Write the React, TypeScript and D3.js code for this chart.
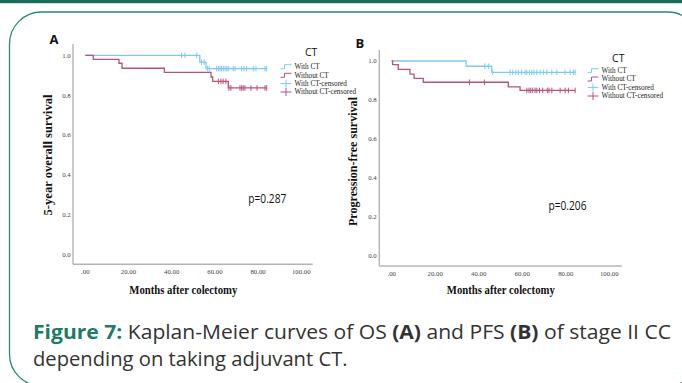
import React from "react";
import * as d3 from "d3";

// ---- Panel A: overall survival (months, survival) ----
const osWithCtSteps: [number, number][] = [[0, 1.0], [53.0, 0.966], [55.9, 0.933]];
const osWithCtEnd = 84;
const osWithCtCensored = [44.6, 46.1, 51.6, 53.8, 55.0, 56.5, 57.4, 60.8, 61.6, 62.4, 63.1, 63.9, 64.7, 65.5, 66.2, 68.5, 69.3, 72.4, 73.5, 74.7, 77.8, 79.0, 83.2, 84.0];

const osWithoutCtSteps: [number, number][] = [[0, 1.0], [3.7, 0.98], [15.6, 0.96], [17.0, 0.935], [36.6, 0.914], [58.2, 0.891], [59.0, 0.869], [66.2, 0.836]];
const osWithoutCtEnd = 84;
const osWithoutCtCensored = [61.6, 62.8, 63.8, 65.1, 66.5, 67.4, 71.6, 72.4, 73.1, 73.9, 76.7, 79.5, 83.2, 84.0];

// ---- Panel B: progression-free survival ----
const pfsWithCtSteps: [number, number][] = [[0, 1.0], [34.2, 0.973], [46.0, 0.942]];
const pfsWithCtEnd = 84.3;
const pfsWithCtCensored = [42.8, 44.6, 46.4, 54.4, 55.6, 57.1, 58.2, 59.7, 61.3, 62.1, 63.3, 64.4, 65.4, 66.7, 68.2, 69.7, 71.3, 73.6, 75.9, 79.7, 82.0, 83.5, 84.3];

const pfsWithoutCtSteps: [number, number][] = [[0, 1.0], [0.4, 0.981], [3.0, 0.957], [8.4, 0.933], [10.3, 0.911], [14.5, 0.891], [53.6, 0.867], [59.0, 0.849]];
const pfsWithoutCtEnd = 84.3;
const pfsWithoutCtCensored = [35.7, 42.6, 62.1, 63.1, 63.9, 64.8, 65.9, 66.7, 67.9, 69.4, 71.5, 72.3, 73.6, 77.4, 79.7, 81.2, 84.3];

const xTicks = [0, 20, 40, 60, 80, 100];
const yTicks = [0, 0.2, 0.4, 0.6, 0.8, 1.0];
const legendLabels = ["With CT", "Without CT", "With CT-censored", "Without CT-censored"];

const BLUE = "#7ecaf0";
const RED = "#b8517b";
const AXIS = "#b4b4b4";
const SERIF = "'Liberation Serif', 'Times New Roman', serif";
const SANS = "'Open Sans', sans-serif";
const TEAL = "#1f7a67";

type Series = { steps: [number, number][]; end: number; censored: number[]; color: string };

function survivalAt(steps: [number, number][], t: number) {
  let s = steps[0][1];
  for (const [time, v] of steps) if (time <= t) s = v;
  return s;
}

type PanelProps = {
  letter: string;
  letterPos: [number, number];
  xRange: [number, number];
  yRange: [number, number];
  axisX: number;
  axisTop: number;
  axisY: number;
  axisRight: number;
  yLabelX: number;
  xLabelY: number;
  yTitle: string;
  yTitlePos: [number, number];
  yTitleLen: number;
  xTitlePos: [number, number];
  pText: string;
  pPos: [number, number];
  legendTitlePos: [number, number];
  legendSymX: number;
  legendRows: number[];
  series: Series[];
};

function Panel(p: PanelProps) {
  const x = d3.scaleLinear().domain([0, 100]).range(p.xRange);
  const y = d3.scaleLinear().domain([0, 1]).range(p.yRange);
  const line = d3
    .line<[number, number]>()
    .x((d) => x(d[0]))
    .y((d) => y(d[1]))
    .curve(d3.curveStepAfter);
  const fmtX = (v: number) => (v === 0 ? ".00" : d3.format(".2f")(v));
  const fmtY = d3.format(".1f");
  const sx0 = p.legendSymX;
  const sx1 = p.legendSymX + 11;

  return (
    <g>
      <text x={p.letterPos[0]} y={p.letterPos[1]} fontFamily={SANS} fontWeight={700} fontSize={13} fill="#111">
        {p.letter}
      </text>
      {/* axes */}
      <line x1={p.axisX} x2={p.axisX} y1={p.axisTop} y2={p.axisY} stroke={AXIS} strokeWidth={1.4} />
      <line x1={p.axisX} x2={p.axisRight} y1={p.axisY} y2={p.axisY} stroke={AXIS} strokeWidth={1.4} />
      {yTicks.map((v) => (
        <text key={v} x={p.yLabelX} y={y(v) + 2.4} textAnchor="end" fontFamily={SERIF} fontSize={6.8} fill="#444">
          {fmtY(v)}
        </text>
      ))}
      {xTicks.map((v) => (
        <text key={v} x={x(v)} y={p.xLabelY} textAnchor="middle" fontFamily={SERIF} fontSize={6.8} fill="#444">
          {fmtX(v)}
        </text>
      ))}
      <text
        transform={`translate(${p.yTitlePos[0]},${p.yTitlePos[1]}) rotate(-90)`}
        textAnchor="middle"
        fontFamily={SERIF}
        fontWeight={700}
        fontSize={11.5}
        textLength={p.yTitleLen}
        lengthAdjust="spacingAndGlyphs"
        fill="#111"
      >
        {p.yTitle}
      </text>
      <text
        x={p.xTitlePos[0]}
        y={p.xTitlePos[1]}
        textAnchor="middle"
        fontFamily={SERIF}
        fontWeight={700}
        fontSize={11.5}
        textLength={108}
        lengthAdjust="spacingAndGlyphs"
        fill="#111"
      >
        Months after colectomy
      </text>
      {/* survival curves */}
      {p.series.map((s, i) => (
        <g key={i}>
          <path
            d={line([...s.steps, [s.end, s.steps[s.steps.length - 1][1]]]) || ""}
            fill="none"
            stroke={s.color}
            strokeWidth={1.3}
          />
          {s.censored.map((t, j) => {
            const cy = y(survivalAt(s.steps, t));
            return <line key={j} x1={x(t)} x2={x(t)} y1={cy - 2.8} y2={cy + 2.8} stroke={s.color} strokeWidth={1} />;
          })}
        </g>
      ))}
      <text x={p.pPos[0]} y={p.pPos[1]} fontFamily={SANS} fontSize={12} textLength={38} lengthAdjust="spacingAndGlyphs" fill="#111">
        {p.pText}
      </text>
      {/* legend */}
      <text x={p.legendTitlePos[0]} y={p.legendTitlePos[1]} textAnchor="middle" fontFamily={SANS} fontSize={10.5} fill="#111">
        CT
      </text>
      {legendLabels.map((lab, i) => {
        const cy = p.legendRows[i];
        const color = i % 2 === 0 ? BLUE : RED;
        return (
          <g key={lab}>
            {i < 2 ? (
              <path
                d={`M${sx0},${cy + 2} H${sx0 + 4} V${cy - 2} H${sx1}`}
                fill="none"
                stroke={color}
                strokeWidth={1}
              />
            ) : (
              <g>
                <line x1={sx0} x2={sx1} y1={cy} y2={cy} stroke={color} strokeWidth={1} />
                <line x1={(sx0 + sx1) / 2} x2={(sx0 + sx1) / 2} y1={cy - 4} y2={cy + 4} stroke={color} strokeWidth={1} />
              </g>
            )}
            <text x={sx1 + 3} y={cy + 2.4} fontFamily={SERIF} fontSize={7.2} fill="#222">
              {lab}
            </text>
          </g>
        );
      })}
    </g>
  );
}

export default function App() {
  const W = 682;
  const H = 383;
  return (
    <svg width={W} height={H} style={{ position: "absolute", left: 0, top: 0, background: "#fff" }}>
      <rect x={0} y={0} width={W} height={H} fill="#fff" />
      <rect x={0} y={0} width={W} height={3.2} fill="#1c6b58" />
      <rect x={9.5} y={12} width={690} height={374} rx={32} ry={32} fill="none" stroke="#2a8a77" strokeWidth={1.3} />

      <Panel
        letter="A"
        letterPos={[49.5, 43.5]}
        xRange={[85.3, 301.3]}
        yRange={[254.5, 55.3]}
        axisX={73}
        axisTop={44}
        axisY={264.3}
        axisRight={312.7}
        yLabelX={70.7}
        xLabelY={274}
        yTitle="5-year overall survival"
        yTitlePos={[51.5, 155]}
        yTitleLen={121}
        xTitlePos={[183.3, 293.5]}
        pText="p=0.287"
        pPos={[248.3, 203]}
        legendTitlePos={[311.2, 56]}
        legendSymX={280.5}
        legendRows={[66.7, 75.3, 83.6, 92]}
        series={[
          { steps: osWithCtSteps, end: osWithCtEnd, censored: osWithCtCensored, color: BLUE },
          { steps: osWithoutCtSteps, end: osWithoutCtEnd, censored: osWithoutCtCensored, color: RED },
        ]}
      />
      <Panel
        letter="B"
        letterPos={[355.5, 48]}
        xRange={[391.7, 609.3]}
        yRange={[256, 61]}
        axisX={379.3}
        axisTop={50}
        axisY={266}
        axisRight={621.7}
        yLabelX={376.7}
        xLabelY={275.6}
        yTitle="Progression-free survival"
        yTitlePos={[356.8, 161.5]}
        yTitleLen={129}
        xTitlePos={[500.8, 293.5]}
        pText="p=0.206"
        pPos={[548.5, 209.5]}
        legendTitlePos={[618.3, 61.5]}
        legendSymX={587.5}
        legendRows={[70.7, 79, 87.4, 96]}
        series={[
          { steps: pfsWithCtSteps, end: pfsWithCtEnd, censored: pfsWithCtCensored, color: BLUE },
          { steps: pfsWithoutCtSteps, end: pfsWithoutCtEnd, censored: pfsWithoutCtCensored, color: RED },
        ]}
      />

      {/* caption */}
      <text x={33} y={339} fontFamily={SANS} fontSize={20.2} fill="#333" textLength={638} lengthAdjust="spacingAndGlyphs">
        <tspan fontWeight={700} fill={TEAL}>Figure 7:</tspan>
        <tspan> Kaplan-Meier curves of OS </tspan>
        <tspan fontWeight={700}>(A)</tspan>
        <tspan> and PFS </tspan>
        <tspan fontWeight={700}>(B)</tspan>
        <tspan> of stage II CC</tspan>
      </text>
      <text x={33} y={366} fontFamily={SANS} fontSize={20.2} fill="#333">
        depending on taking adjuvant CT.
      </text>
    </svg>
  );
}
